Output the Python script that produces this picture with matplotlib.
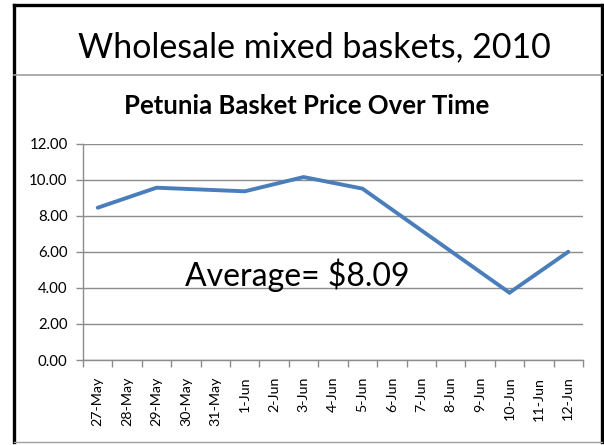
import matplotlib
matplotlib.use("Agg")
import matplotlib.pyplot as plt
from matplotlib.lines import Line2D
from matplotlib.ticker import FixedLocator, NullFormatter

plt.rcParams['font.family'] = ['Lato', 'DejaVu Sans']

categories = ["27-May", "28-May", "29-May", "30-May", "31-May", "1-Jun", "2-Jun",
              "3-Jun", "4-Jun", "5-Jun", "6-Jun", "7-Jun", "8-Jun", "9-Jun",
              "10-Jun", "11-Jun", "12-Jun"]
price_dates = ["27-May", "29-May", "1-Jun", "3-Jun", "5-Jun", "10-Jun", "12-Jun"]
prices = [8.44, 9.55, 9.35, 10.14, 9.5, 3.73, 6.0]
y_ticks = [0, 2, 4, 6, 8, 10, 12]

W, H = 604, 445
fig = plt.figure(figsize=(W / 100, H / 100), dpi=100)

def fx(px):
    return px / W

def fy(py):
    return 1 - py / H

# outer border
fig.add_artist(Line2D([fx(13.5), fx(13.5)], [fy(4.5), fy(442)], color="black", lw=2.4, transform=fig.transFigure))
fig.add_artist(Line2D([fx(13.5), fx(601.5)], [fy(4.5), fy(4.5)], color="black", lw=2.4, transform=fig.transFigure))
fig.add_artist(Line2D([fx(601.5), fx(601.5)], [fy(4.5), fy(442)], color="black", lw=2.4, transform=fig.transFigure))
fig.add_artist(Line2D([fx(13.5), fx(601.5)], [fy(442), fy(442)], color="#a0a0a0", lw=1.0, transform=fig.transFigure))
# separator under slide title
fig.add_artist(Line2D([fx(13.5), fx(601.5)], [fy(74.5), fy(74.5)], color="#a0a0a0", lw=1.2, transform=fig.transFigure))

fig.text(fx(314), fy(47), "Wholesale mixed baskets, 2010", ha="center", va="center", fontsize=24.5, color="black")
fig.text(fx(307), fy(106), "Petunia Basket Price Over Time", ha="center", va="center", fontsize=18.5,
         fontweight="bold", color="black")

ax = fig.add_axes([fx(83), fy(360), fx(583) - fx(83), fy(143.5) - fy(360)])
xpos = [categories.index(d) for d in price_dates]
ax.plot(xpos, prices, color="#4A7EBB", lw=2.8, solid_capstyle="round", solid_joinstyle="miter", zorder=3)

ax.set_xlim(-0.5, len(categories) - 0.5)
ax.set_ylim(0, 12)
ax.set_yticks(y_ticks)
ax.set_yticklabels([f"{v:.2f}" for v in y_ticks], fontsize=10.8)
ax.yaxis.grid(True, color="#8c8c8c", lw=1.0)
ax.set_axisbelow(True)

ax.set_xticks(range(len(categories)))
ax.set_xticklabels(categories, rotation=90, fontsize=10.3)
ax.tick_params(axis="x", which="major", length=0, pad=12)
ax.xaxis.set_minor_locator(FixedLocator([i - 0.5 for i in range(len(categories) + 1)]))
ax.xaxis.set_minor_formatter(NullFormatter())
ax.tick_params(axis="x", which="minor", length=5, color="#8c8c8c", width=1.0, direction="out")
ax.tick_params(axis="y", length=5, color="#8c8c8c", width=1.0, direction="out", pad=6)

for s in ["top", "right"]:
    ax.spines[s].set_visible(False)
for s in ["left", "bottom"]:
    ax.spines[s].set_color("#8c8c8c")
    ax.spines[s].set_linewidth(1.0)

ax.text(6.78, 4.71, "Average= $8.09", ha="center", va="center", fontsize=23, color="black")

fig.savefig("out.png", dpi=100)
